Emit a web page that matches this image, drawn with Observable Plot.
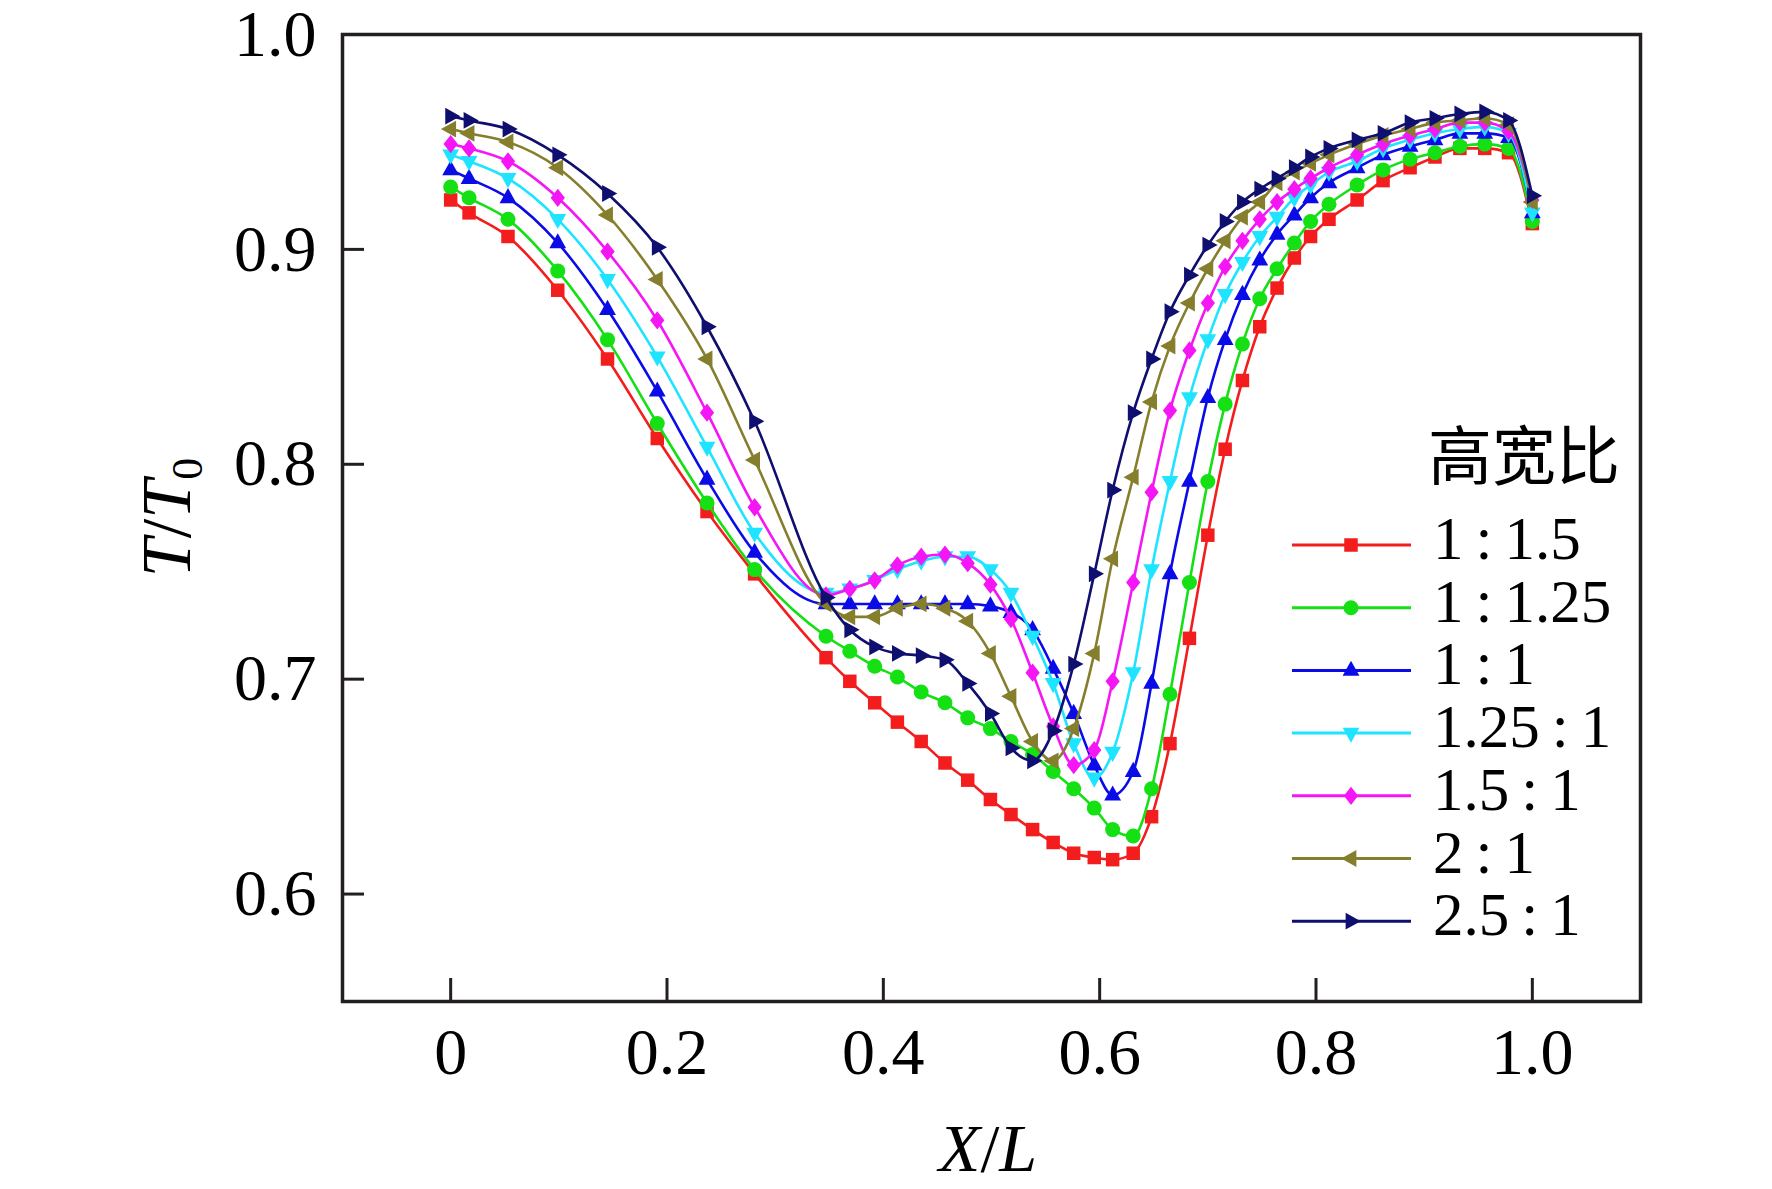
<!DOCTYPE html>
<html><head><meta charset="utf-8">
<script src="https://cdn.jsdelivr.net/npm/d3@7"></script>
<script src="https://cdn.jsdelivr.net/npm/@observablehq/plot@0.6"></script>
<style>
html,body{margin:0;padding:0;background:#fff;}
#chart{position:relative;width:1772px;height:1189px;}
</style></head><body><div id="chart"></div>
<script>
// ---- data ----
const xPos = [0, 0.017, 0.053, 0.099, 0.145, 0.191, 0.237, 0.281, 0.347, 0.369, 0.392, 0.413, 0.435, 0.457, 0.478, 0.499, 0.518, 0.538, 0.557, 0.576, 0.595, 0.612, 0.631, 0.648, 0.665, 0.683, 0.700, 0.716, 0.732, 0.748, 0.764, 0.780, 0.795, 0.812, 0.838, 0.862, 0.887, 0.910, 0.933, 0.956, 0.978, 1.0];
const seriesNames = ["1:1.5", "1:1.25", "1:1", "1.25:1", "1.5:1", "2:1", "2.5:1"];
const r1_1p5  = [.923,.917,.906,.881,.849,.812,.778,.749,.710,.699,.689,.680,.671,.661,.653,.644,.637,.630,.624,.619,.617,.616,.619,.636,.670,.719,.767,.807,.839,.864,.882,.896,.906,.914,.923,.932,.938,.943,.947,.947,.945,.912];
const r1_1p25 = [.929,.924,.914,.890,.858,.819,.782,.751,.720,.713,.706,.701,.694,.689,.682,.677,.671,.665,.657,.649,.640,.630,.627,.649,.693,.745,.792,.828,.856,.877,.891,.903,.913,.921,.930,.937,.942,.945,.948,.949,.947,.913];
const r1_1    = [.937,.933,.924,.903,.872,.834,.793,.759,.735,.735,.735,.735,.735,.735,.735,.734,.731,.723,.705,.684,.660,.646,.657,.698,.749,.792,.831,.858,.879,.895,.907,.916,.924,.931,.938,.944,.948,.951,.954,.954,.952,.917];
const r1p25_1 = [.944,.941,.933,.914,.886,.850,.808,.768,.740,.742,.746,.751,.755,.757,.757,.751,.740,.720,.698,.670,.654,.666,.703,.751,.792,.831,.858,.879,.894,.906,.915,.924,.930,.936,.941,.947,.951,.954,.956,.957,.954,.917];
const r1p5_1  = [.949,.947,.941,.924,.899,.867,.824,.780,.739,.742,.746,.753,.757,.758,.754,.744,.728,.703,.678,.660,.667,.699,.745,.787,.825,.853,.875,.892,.904,.914,.922,.928,.933,.938,.944,.949,.953,.956,.959,.959,.955,.923];
const r2_1    = [.956,.954,.950,.938,.916,.886,.849,.802,.735,.729,.729,.733,.735,.733,.727,.712,.692,.671,.662,.677,.712,.756,.794,.829,.855,.875,.891,.904,.915,.922,.931,.936,.940,.944,.949,.953,.956,.959,.960,.961,.958,.922];
const r2p5_1  = [.962,.960,.956,.944,.926,.901,.864,.820,.738,.723,.715,.712,.711,.709,.698,.684,.668,.662,.676,.707,.749,.788,.824,.849,.871,.888,.902,.913,.922,.928,.933,.938,.943,.947,.951,.954,.959,.961,.963,.964,.960,.925];
const xTicks = [0, 0.2, 0.4, 0.6, 0.8, 1.0];
const yTicks = [0.6, 0.7, 0.8, 0.9, 1.0];
const yInnerTicks = [0.6, 0.7, 0.8, 0.9];
const legendTitle = "高宽比";
const xLabelParts = ["X", "/", "L"];
const yLabelParts = ["T", "/", "T", "0"];

// ---- styles ----
const colors = ["#f41d1d", "#14e014", "#0b0be8", "#1fe4ff", "#f516f5", "#857f2d", "#0f0f6f"];
function poly(pts) {
  return {draw(ctx, size) {
    const r = Math.sqrt(size / Math.PI);
    pts.forEach(([a, b], i) => i ? ctx.lineTo(a * r, b * r) : ctx.moveTo(a * r, b * r));
    ctx.closePath();
  }};
}
const symSquare = poly([[-0.9,-0.9],[0.9,-0.9],[0.9,0.9],[-0.9,0.9]]);
const symUp = poly([[0,-1.3],[1.12,0.72],[-1.12,0.72]]);
const symDown = poly([[0,1.3],[1.12,-0.72],[-1.12,-0.72]]);
const symLeft = poly([[-1.3,0],[0.72,-1.12],[0.72,1.12]]);
const symRight = poly([[1.3,0],[-0.72,-1.12],[-0.72,1.12]]);
const symDiamond = poly([[0,-1.22],[0.95,0],[0,1.22],[-0.95,0]]);
const symbols = [symSquare, d3.symbolCircle, symUp, symDown, symDiamond, symLeft, symRight];
const seriesValues = [r1_1p5, r1_1p25, r1_1, r1p25_1, r1p5_1, r2_1, r2p5_1];

const W = 1772, H = 1189, mL = 342, mR = 132, mT = 34, mB = 188;
const innerW = W - mL - mR, innerH = H - mT - mB;
const ink = "#231f20";
const serif = "'Liberation Serif', 'DejaVu Serif', serif";
const R = 7.5;

const marks = [];
seriesValues.forEach((vals, i) => {
  const data = xPos.map((x, j) => ({x, y: vals[j]}));
  marks.push(Plot.line(data, {x: "x", y: "y", stroke: colors[i], strokeWidth: 2.6, curve: "monotone-x"}));
  marks.push(Plot.dot(data, {x: "x", y: "y", symbol: symbols[i], r: R, fill: colors[i], stroke: "none"}));
});

const plot = Plot.plot({
  width: W, height: H,
  marginLeft: mL, marginRight: mR, marginTop: mT, marginBottom: mB,
  style: {fontFamily: serif, fontSize: "66px", color: "#000", background: "#fff"},
  x: {domain: [-0.1, 1.1]},
  y: {domain: [0.55, 1.0]},
  marks: [
    Plot.axisX({ticks: xTicks, tickFormat: d => d === 0 ? "0" : d.toFixed(1), tickSize: 0, tickPadding: 26, label: null, fontSize: 66}),
    Plot.axisY({ticks: yTicks, tickFormat: d => d.toFixed(1), tickSize: 0, tickPadding: 26, label: null, fontSize: 66}),
    Plot.tickX(xTicks, {x: d => d, insetTop: innerH - 23, stroke: ink, strokeWidth: 3}),
    Plot.tickY(yInnerTicks, {y: d => d, insetRight: innerW - 22, stroke: ink, strokeWidth: 3}),
    ...marks,
    Plot.frame({stroke: ink, strokeWidth: 3.5})
  ]
});
document.getElementById("chart").appendChild(plot);

// ---- axis titles and legend ----
const svg = d3.select(plot);
const xl = svg.append("text").attr("x", mL + innerW / 2 - 3).attr("y", 1171)
  .attr("text-anchor", "middle").attr("font-family", serif).attr("font-size", 68).attr("fill", "#000");
xl.append("tspan").attr("font-style", "italic").text(xLabelParts[0]);
xl.append("tspan").text(xLabelParts[1]);
xl.append("tspan").attr("font-style", "italic").text(xLabelParts[2]);

const yl = svg.append("text").attr("transform", `translate(190,${mT + innerH / 2}) rotate(-90)`)
  .attr("text-anchor", "middle").attr("font-family", serif).attr("font-size", 70).attr("fill", "#000");
yl.append("tspan").attr("font-style", "italic").text(yLabelParts[0]);
yl.append("tspan").text(yLabelParts[1]);
yl.append("tspan").attr("font-style", "italic").text(yLabelParts[2]);
yl.append("tspan").attr("font-size", 44).attr("dy", 12).text(yLabelParts[3]);

const lg = svg.append("g").attr("text-anchor", "start");
lg.append("text").attr("x", 1428).attr("y", 479).attr("text-anchor", "start")
  .attr("font-family", "'Noto Sans CJK SC', sans-serif")
  .attr("font-size", 64).attr("fill", "#000").text(legendTitle);
seriesNames.forEach((name, i) => {
  const cy = 545 + i * 62.7;
  lg.append("line").attr("x1", 1292).attr("x2", 1411).attr("y1", cy).attr("y2", cy)
    .attr("stroke", colors[i]).attr("stroke-width", 3);
  lg.append("path").attr("transform", `translate(1351,${cy})`)
    .attr("d", d3.symbol().type(symbols[i]).size(Math.PI * R * R)()).attr("fill", colors[i]);
  const parts = name.split(":");
  const t = lg.append("text").attr("x", 1433).attr("y", cy + 14).attr("text-anchor", "start")
    .attr("font-family", serif).attr("font-size", 61).attr("fill", "#000");
  t.append("tspan").text(parts[0]);
  t.append("tspan").attr("dx", 12).text(":");
  t.append("tspan").attr("dx", 12).text(parts[1]);
});
</script></body></html>
